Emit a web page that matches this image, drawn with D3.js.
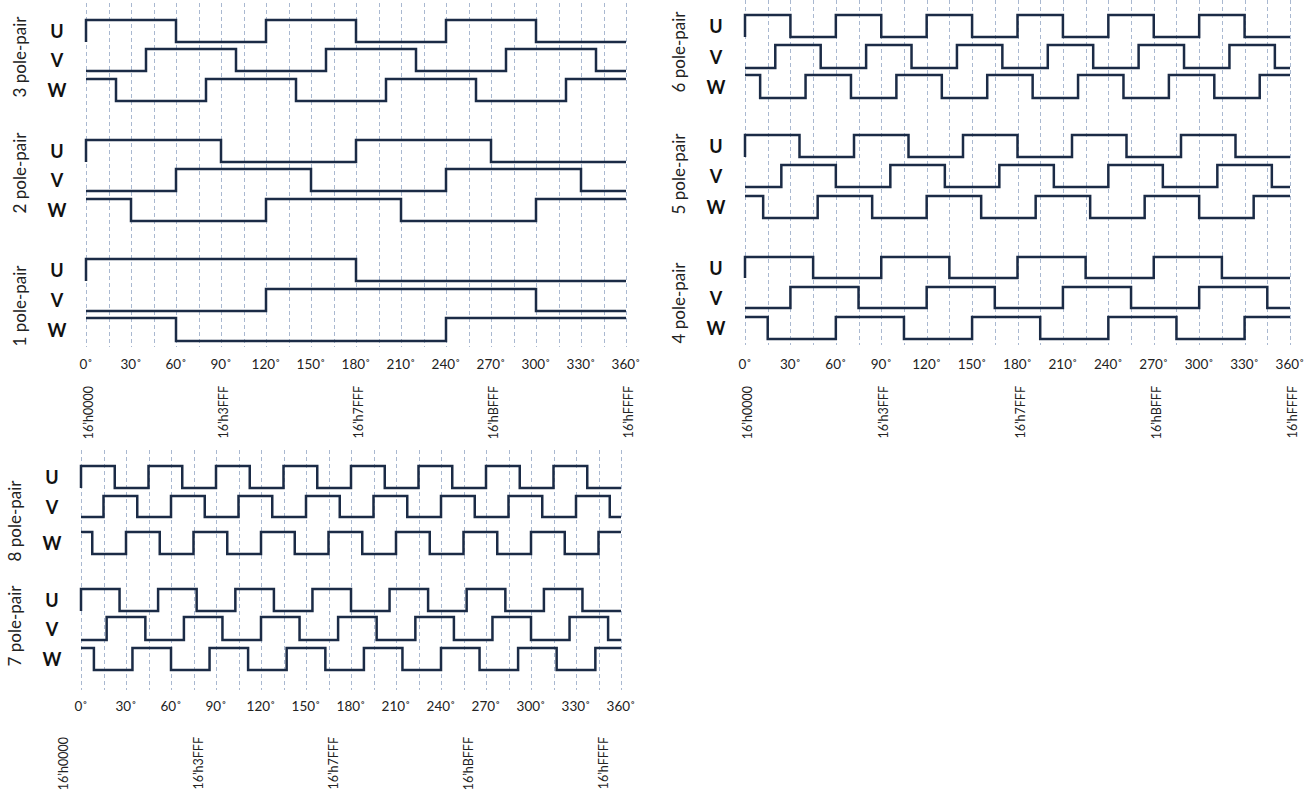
<!DOCTYPE html>
<html>
<head>
<meta charset="utf-8">
<script src="https://cdn.jsdelivr.net/npm/d3@7"></script>
<style>
  body { margin: 0; background: #fff; }
  svg { display: block; }
  .grid { stroke: #a9b8d0; stroke-width: 1; stroke-dasharray: 4 3; }
  .wave { fill: none; stroke: #1b2b46; stroke-width: 2.5; stroke-linejoin: miter; }
  .phase { font-family: Lato, "Open Sans", sans-serif; font-weight: bold; font-size: 18px; fill: #111; }
  .pole { font-family: Lato, "Open Sans", sans-serif; font-size: 17px; fill: #222; }
  .deg { font-family: Lato, "Open Sans", sans-serif; font-size: 13.5px; fill: #222; }
  .hex { font-family: Lato, "Open Sans", sans-serif; font-size: 12.5px; fill: #222; }
</style>
</head>
<body>
<svg id="chart" width="1315" height="795"></svg>
<script>
// angle ticks (mechanical degrees)
var degreeTicks = [0, 30, 60, 90, 120, 150, 180, 210, 240, 270, 300, 330, 360];
var gridDegrees = [0, 15, 30, 45, 60, 75, 90, 105, 120, 135, 150, 165, 180,
  195, 210, 225, 240, 255, 270, 285, 300, 315, 330, 345, 360];
var hexTicks = [0, 90, 180, 270, 360];
var hexLabels = ["16’h0000", "16’h3FFF", "16’h7FFF", "16’hBFFF", "16’hFFFF"];

var phaseNames = ["U", "V", "W"];
var phaseStart = [1, 0, 1]; // level at 0 deg

// switching angles of U, V, W for every pole-pair count
var edges1 = [[180], [120, 300], [60, 240]];
var edges2 = [[90, 180, 270], [60, 150, 240, 330], [30, 120, 210, 300]];
var edges3 = [[60, 120, 180, 240, 300],
  [40, 100, 160, 220, 280, 340],
  [20, 80, 140, 200, 260, 320]];
var edges4 = [[45, 90, 135, 180, 225, 270, 315],
  [30, 75, 120, 165, 210, 255, 300, 345],
  [15, 60, 105, 150, 195, 240, 285, 330]];
var edges5 = [[36, 72, 108, 144, 180, 216, 252, 288, 324],
  [24, 60, 96, 132, 168, 204, 240, 276, 312, 348],
  [12, 48, 84, 120, 156, 192, 228, 264, 300, 336]];
var edges6 = [[30, 60, 90, 120, 150, 180, 210, 240, 270, 300, 330],
  [20, 50, 80, 110, 140, 170, 200, 230, 260, 290, 320, 350],
  [10, 40, 70, 100, 130, 160, 190, 220, 250, 280, 310, 340]];
var edges7 = [[25.7, 51.4, 77.1, 102.9, 128.6, 154.3, 180, 205.7, 231.4, 257.1, 282.9, 308.6, 334.3],
  [17.1, 42.9, 68.6, 94.3, 120, 145.7, 171.4, 197.1, 222.9, 248.6, 274.3, 300, 325.7, 351.4],
  [8.6, 34.3, 60, 85.7, 111.4, 137.1, 162.9, 188.6, 214.3, 240, 265.7, 291.4, 317.1, 342.9]];
var edges8 = [[22.5, 45, 67.5, 90, 112.5, 135, 157.5, 180, 202.5, 225, 247.5, 270, 292.5, 315, 337.5],
  [15, 37.5, 60, 82.5, 105, 127.5, 150, 172.5, 195, 217.5, 240, 262.5, 285, 307.5, 330, 352.5],
  [7.5, 30, 52.5, 75, 97.5, 120, 142.5, 165, 187.5, 210, 232.5, 255, 277.5, 300, 322.5, 345]];

// layout of the three panels
var panels = [
  { x0: 86, x1: 626, gridTop: 3, gridBottom: 347, degY: 369, hexTop: 386, hexDx: 7,
    groups: [
      { label: "3 pole-pair", edges: edges3, labelY: 57, levels: [[20, 42], [49, 71], [79, 101]] },
      { label: "2 pole-pair", edges: edges2, labelY: 173, levels: [[140, 162], [169, 191], [199, 221]] },
      { label: "1 pole-pair", edges: edges1, labelY: 306, levels: [[259, 281], [289, 311], [318, 341]] }
    ] },
  { x0: 745, x1: 1290, gridTop: 0, gridBottom: 345, degY: 369, hexTop: 386, hexDx: 7,
    groups: [
      { label: "6 pole-pair", edges: edges6, labelY: 52, levels: [[15, 37], [45, 68], [75, 98]] },
      { label: "5 pole-pair", edges: edges5, labelY: 174, levels: [[135, 157], [165, 187], [196, 218]] },
      { label: "4 pole-pair", edges: edges4, labelY: 303, levels: [[257, 278], [287, 308], [317, 339]] }
    ] },
  { x0: 81, x1: 621, gridTop: 450, gridBottom: 690, degY: 711, hexTop: 737, hexDx: -13,
    groups: [
      { label: "8 pole-pair", edges: edges8, labelY: 521, levels: [[466, 488], [496, 517], [532, 554]] },
      { label: "7 pole-pair", edges: edges7, labelY: 626, levels: [[589, 611], [617, 640], [648, 670]] }
    ] }
];

var svg = d3.select("#chart");

var line = d3.line()
  .x((d) => d[0])
  .y((d) => d[1])
  .curve(d3.curveStepAfter);

panels.forEach(function (p) {
  var x = d3.scaleLinear().domain([0, 360]).range([p.x0, p.x1]);
  var g = svg.append("g");

  // dashed guide lines every 15 deg
  g.selectAll(".grid")
    .data(gridDegrees)
    .enter()
    .append("line")
    .attr("class", "grid")
    .attr("x1", (d) => Math.round(x(d)) + 0.5)
    .attr("x2", (d) => Math.round(x(d)) + 0.5)
    .attr("y1", p.gridTop)
    .attr("y2", p.gridBottom);

  // degree labels
  g.selectAll(".deg")
    .data(degreeTicks)
    .enter()
    .append("text")
    .attr("class", "deg")
    .attr("x", (d) => x(d))
    .attr("y", p.degY)
    .attr("text-anchor", "middle")
    .text((d) => d + "˚");

  // encoder count labels
  g.selectAll(".hex")
    .data(hexTicks)
    .enter()
    .append("text")
    .attr("class", "hex")
    .attr("transform", (d) => "translate(" + (x(d) + p.hexDx) + "," + p.hexTop + ") rotate(-90)")
    .attr("text-anchor", "end")
    .text((d, i) => hexLabels[i]);

  p.groups.forEach(function (grp) {
    g.append("text")
      .attr("class", "pole")
      .attr("transform", "translate(" + (p.x0 - 60) + "," + grp.labelY + ") rotate(-90)")
      .attr("text-anchor", "middle")
      .text(grp.label);

    phaseNames.forEach(function (name, i) {
      var lv = grp.levels[i];
      var y = d3.scaleLinear().domain([0, 1]).range([lv[1], lv[0]]);

      g.append("text")
        .attr("class", "phase")
        .attr("x", p.x0 - 29)
        .attr("y", (lv[0] + lv[1]) / 2)
        .attr("text-anchor", "middle")
        .attr("dominant-baseline", "central")
        .text(name);

      var level = phaseStart[i];
      var pts = [];
      if (name === "U") pts.push([x(0), y(0)]);
      pts.push([x(0), y(level)]);
      grp.edges[i].forEach(function (e) {
        level = 1 - level;
        pts.push([x(e), y(level)]);
      });
      pts.push([x(360), y(level)]);

      g.append("path")
        .datum(pts)
        .attr("class", "wave")
        .attr("d", line);
    });
  });
});
</script>
</body>
</html>
